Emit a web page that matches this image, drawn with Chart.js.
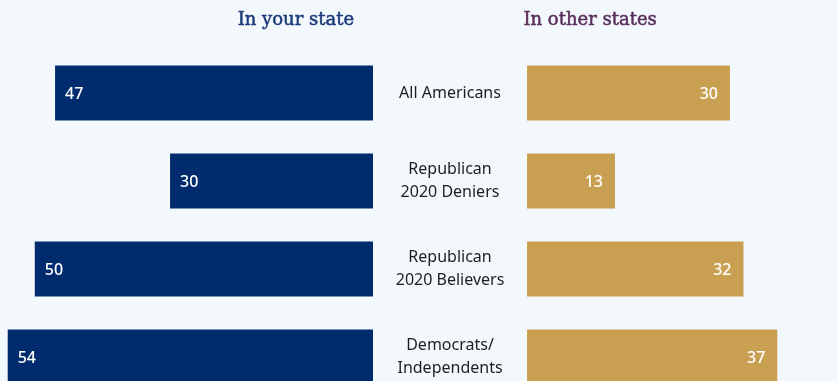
<!DOCTYPE html>
<html>
<head>
<meta charset="utf-8">
<script src="https://cdn.jsdelivr.net/npm/chart.js@4/dist/chart.umd.min.js"></script>
<style>
  html, body { margin: 0; padding: 0; background: #f3f8fc; overflow: hidden; }
  body { width: 838px; height: 381px; }
  .wrap { position: relative; width: 838px; height: 403px; }
</style>
</head>
<body>
<div class="wrap"><canvas id="chart"></canvas></div>
<script>
// groups shown down the middle
const categories = [
    ['All Americans'],
    ['Republican', '2020 Deniers'],
    ['Republican', '2020 Believers'],
    ['Democrats/', 'Independents']
];
const seriesNames = ['In your state', 'In other states'];
const inYourState = [47, 30, 50, 54];
const inOtherStates = [30, 13, 32, 37];

const NAVY = '#002c6e';
const GOLD = '#c9a052';
const GAP = 22.77; // space kept free for the group labels, in value units

// left bars grow leftwards from zero, right bars start after the gap
const leftData = inYourState.map(v => -v);
const rightData = inOtherStates.map(v => [GAP, GAP + v]);

const labelPlugin = {
    id: 'sideLabels',
    afterDatasetsDraw(chart) {
        const c = chart.ctx;
        const x = chart.scales.x;
        const y = chart.scales.y;
        c.save();
        c.textBaseline = 'middle';

        // values inside the bars
        c.fillStyle = '#ffffff';
        c.font = '500 16px "Noto Sans", sans-serif';
        chart.getDatasetMeta(0).data.forEach((bar, i) => {
            c.textAlign = 'left';
            c.fillText(String(inYourState[i]), bar.x + 10, bar.y + 1);
        });
        chart.getDatasetMeta(1).data.forEach((bar, i) => {
            c.textAlign = 'right';
            c.fillText(String(inOtherStates[i]), bar.x - 12, bar.y + 1);
        });

        // group names between the two sides
        c.fillStyle = '#1e1e1e';
        c.font = '16px "Noto Sans", sans-serif';
        c.textAlign = 'center';
        const midX = x.getPixelForValue(GAP / 2);
        categories.forEach((lines, i) => {
            const cy = y.getPixelForValue(i);
            const lh = 23;
            const top = cy - (lines.length - 1) * lh / 2;
            lines.forEach((t, k) => c.fillText(t, midX, top + k * lh));
        });

        // column headers
        c.font = '18px "DejaVu Serif", serif';
        c.lineWidth = 0.5;
        c.fillStyle = '#1b3a7b';
        c.strokeStyle = '#1b3a7b';
        const lx = x.getPixelForValue(-11.4);
        c.fillText(seriesNames[0], lx, 20);
        c.strokeText(seriesNames[0], lx, 20);
        c.fillStyle = '#5a2f5b';
        c.strokeStyle = '#5a2f5b';
        const rx = x.getPixelForValue(32.1);
        c.fillText(seriesNames[1], rx, 20);
        c.strokeText(seriesNames[1], rx, 20);
        c.restore();
    }
};

new Chart(document.getElementById('chart'), {
    type: 'bar',
    data: {
        labels: categories,
        datasets: [{
            label: seriesNames[0],
            data: leftData,
            backgroundColor: NAVY,
            grouped: false,
            categoryPercentage: 1,
            barPercentage: 0.625
        }, {
            label: seriesNames[1],
            data: rightData,
            backgroundColor: GOLD,
            grouped: false,
            categoryPercentage: 1,
            barPercentage: 0.625
        }]
    },
    options: {
        indexAxis: 'y',
        responsive: true,
        maintainAspectRatio: false,
        animation: false,
        layout: { padding: { top: 49, bottom: 2, left: 0, right: 0 } },
        scales: {
            x: { type: 'linear', min: -55.14, max: 68.74, display: false },
            y: { display: false }
        },
        plugins: {
            legend: { display: false },
            tooltip: { enabled: false }
        }
    },
    plugins: [labelPlugin]
});
</script>
</body>
</html>
